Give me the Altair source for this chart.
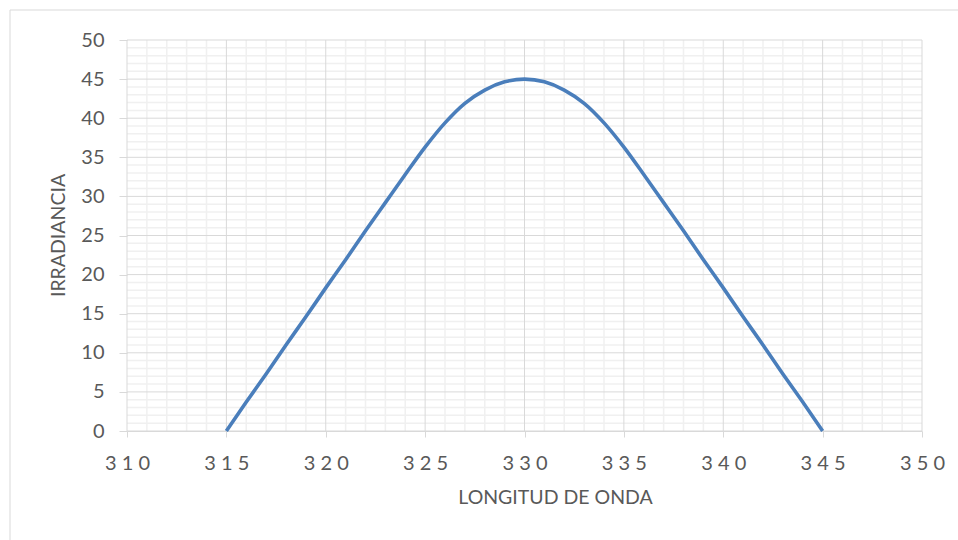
import altair as alt
import pandas as pd

# Data
wavelength = list(range(315, 346))
irradiance = [0, 3.7, 7.3, 11.0, 14.6, 18.3, 21.9, 25.6, 29.2, 32.8, 36.3, 39.4, 41.9, 43.6, 44.65, 45.0,
              44.65, 43.6, 41.9, 39.4, 36.3, 32.8, 29.2, 25.6, 21.9, 18.3, 14.6, 11.0, 7.3, 3.7, 0]

x_major = [310, 315, 320, 325, 330, 335, 340, 345, 350]
y_major = [0, 5, 10, 15, 20, 25, 30, 35, 40, 45, 50]
x_minor = [v for v in range(311, 350) if v % 5 != 0]
y_minor = [v for v in range(1, 50) if v % 5 != 0]

FONT = "Lato"
GREY = "#595959"
GRID = "#d9d9d9"
MINOR = "#f0f0f0"

xs = alt.Scale(domain=[310, 350], nice=False, zero=False)
ys = alt.Scale(domain=[0, 50], nice=False)

ax_x = alt.Axis(
    values=x_major, title="LONGITUD DE ONDA", grid=False,
    domain=True, domainColor=GRID, domainWidth=1,
    ticks=True, tickColor=GRID, tickSize=6,
    labelFont=FONT, labelFontSize=20, labelColor=GREY, labelPadding=16,
    labelBaseline="top", labelFlush=False, labelAlign="center",
    labelExpr="slice(datum.label, 0, 1) + ' ' + slice(datum.label, 1, 2) + ' ' + slice(datum.label, 2, 3)",
    titleFont=FONT, titleFontSize=19.5, titleFontWeight="normal", titleColor=GREY,
    titleX=428, titleY=72, titleBaseline="alphabetic", titleAlign="center")
ax_y = alt.Axis(
    values=y_major, title="IRRADIANCIA", grid=False,
    domain=False, ticks=True, tickColor=GRID, tickSize=8,
    labelFont=FONT, labelFontSize=20, labelColor=GREY, labelPadding=15,
    labelFlush=False, labelBaseline="middle",
    titleFont=FONT, titleFontSize=19.5, titleFontWeight="normal", titleColor=GREY,
    titleAngle=-90, titleX=-69, titleY=195, titleBaseline="middle", titleAlign="center")

df = pd.DataFrame({"x": wavelength, "y": irradiance})

border = alt.Chart(pd.DataFrame({"a": [0]})).mark_rect(
    fill="transparent", stroke=GRID, strokeWidth=1
).encode(x=alt.value(-117), x2=alt.value(1100), y=alt.value(-30), y2=alt.value(700))

minor_x = alt.Chart(pd.DataFrame({"v": x_minor})).mark_rule(color=MINOR, strokeWidth=1.5).encode(
    x=alt.X("v:Q", scale=xs, axis=ax_x))
minor_y = alt.Chart(pd.DataFrame({"v": y_minor})).mark_rule(color=MINOR, strokeWidth=1.5).encode(
    y=alt.Y("v:Q", scale=ys, axis=ax_y))
major_x = alt.Chart(pd.DataFrame({"v": x_major})).mark_rule(color=GRID, strokeWidth=1).encode(
    x=alt.X("v:Q", scale=xs, axis=ax_x))
major_y = alt.Chart(pd.DataFrame({"v": y_major})).mark_rule(color=GRID, strokeWidth=1).encode(
    y=alt.Y("v:Q", scale=ys, axis=ax_y))

line = alt.Chart(df).mark_line(color="#4A7EBB", strokeWidth=3.6, interpolate="monotone").encode(
    x=alt.X("x:Q", scale=xs, axis=ax_x),
    y=alt.Y("y:Q", scale=ys, axis=ax_y),
)

chart = alt.layer(border, minor_x, minor_y, major_x, major_y, line).properties(
    width=795, height=391,
    autosize=alt.AutoSizeParams(type="none"),
    padding={"left": 127, "top": 40, "right": 36, "bottom": 109},
    background="white",
).configure_view(stroke=None)

chart.save("out.html", embed_options={"renderer": "svg", "actions": False})
